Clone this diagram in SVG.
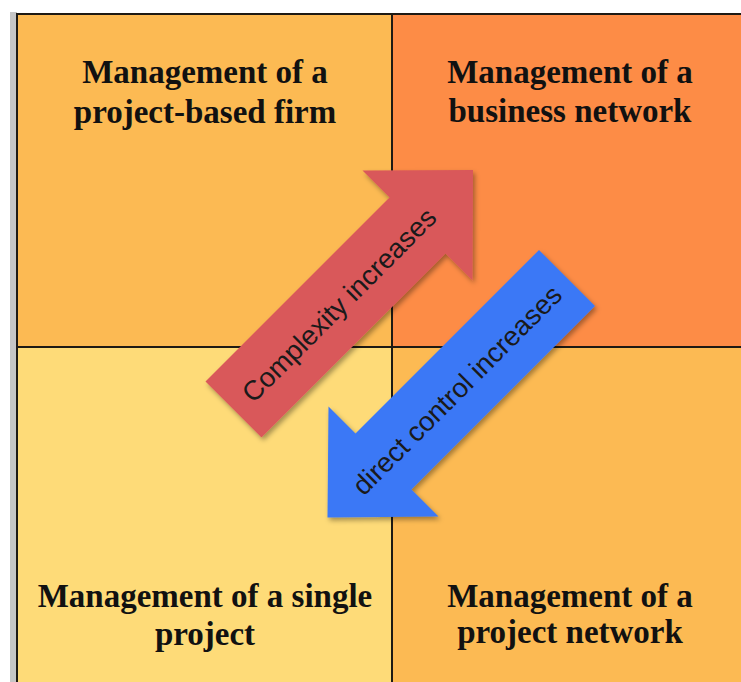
<svg xmlns="http://www.w3.org/2000/svg" width="741" height="682" viewBox="0 0 741 682">
<defs>
<style>
.q{stroke:none}
.title{font-family:"Liberation Serif","Times New Roman",serif;font-weight:bold;font-size:33px;fill:#111;text-anchor:middle}
.lbl{font-family:"Liberation Sans",Arial,sans-serif;font-size:27.5px;fill:#1a1a1a;text-anchor:middle}
.grid{stroke:#1e1a14;stroke-width:2;fill:none}
</style>
<filter id="sh" x="-20%" y="-20%" width="140%" height="140%">
<feDropShadow dx="2" dy="3" stdDeviation="2.5" flood-color="#000" flood-opacity="0.35"/>
</filter>
</defs>
<rect x="0" y="0" width="741" height="682" fill="#ffffff"/>
<rect x="10" y="12" width="7" height="670" fill="#c6c6c6"/>
<g id="q-project-based-firm">
<rect class="q" x="17" y="14" width="375" height="333" fill="#fcba53"/>
<text class="title" x="205" y="83">Management of a</text>
<text class="title" x="205" y="123">project-based firm</text>
</g>
<g id="q-business-network">
<rect class="q" x="392" y="14" width="349" height="333" fill="#fd8c46"/>
<text class="title" x="570" y="83">Management of a</text>
<text class="title" x="570" y="122">business network</text>
</g>
<g id="q-single-project">
<rect class="q" x="17" y="347" width="375" height="335" fill="#fedb78"/>
<text class="title" x="205" y="607">Management of a single</text>
<text class="title" x="205" y="645">project</text>
</g>
<g id="q-project-network">
<rect class="q" x="392" y="347" width="349" height="335" fill="#fcba53"/>
<text class="title" x="570" y="607">Management of a</text>
<text class="title" x="570" y="643">project network</text>
</g>
<g id="grid-lines">
<line class="grid" x1="16" y1="14" x2="741" y2="14"/>
<line class="grid" x1="17" y1="13" x2="17" y2="682"/>
<line class="grid" x1="392" y1="14" x2="392" y2="682"/>
<line class="grid" x1="17" y1="347" x2="741" y2="347"/>
</g>
<g id="connectors">
<g id="arrow-complexity">
<polygon filter="url(#sh)" fill="#d9595a" points="205.5,381.5 389.5,197.5 362.5,170.5 473,170 472.5,280.5 445.5,253.5 261.5,437.5"/>
<text class="lbl" transform="translate(339,305) rotate(-45)" x="0" y="9.5">Complexity increases</text>
</g>
<g id="arrow-direct-control">
<polygon filter="url(#sh)" fill="#3b78f6" points="539,250 355.5,433.5 328.5,406.5 327.5,517.5 438.5,516.5 411.5,489.5 595,306"/>
<text class="lbl" transform="translate(457,390) rotate(-45)" x="0" y="9.5">direct control increases</text>
</g>
</g>
</svg>
